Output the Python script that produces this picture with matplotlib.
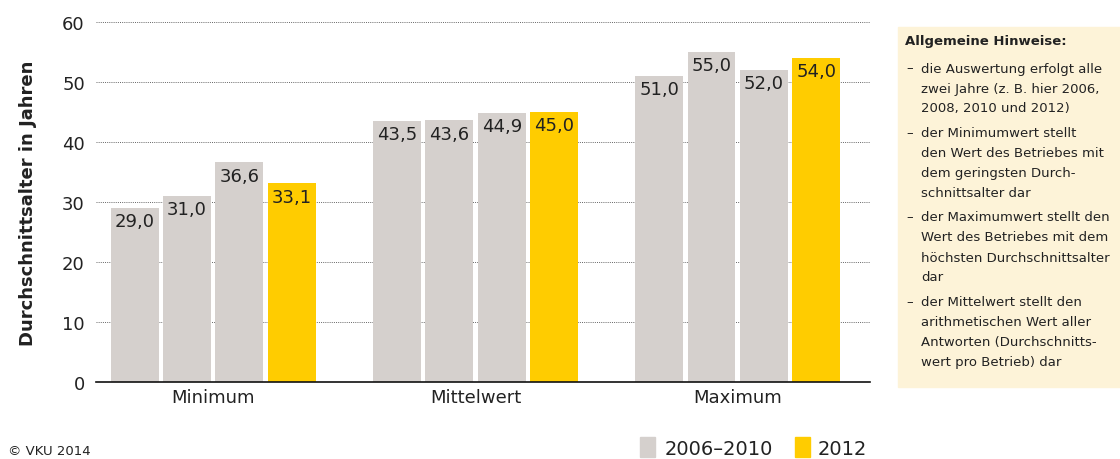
import matplotlib
matplotlib.use("Agg")
import matplotlib.pyplot as plt
from matplotlib.patches import Rectangle
import numpy as np

# ----------------- DATA -----------------
categories = ["Minimum", "Mittelwert", "Maximum"]
years = ["2006", "2008", "2010", "2012"]
values_2006 = [29.0, 43.5, 51.0]
values_2008 = [31.0, 43.6, 55.0]
values_2010 = [36.6, 44.9, 52.0]
values_2012 = [33.1, 45.0, 54.0]
legend_labels = ["2006–2010", "2012"]
notes_title = "Allgemeine Hinweise:"
notes = [
    ["die Auswertung erfolgt alle", "zwei Jahre (z. B. hier 2006,", "2008, 2010 und 2012)"],
    ["der Minimumwert stellt", "den Wert des Betriebes mit", "dem geringsten Durch-", "schnittsalter dar"],
    ["der Maximumwert stellt den", "Wert des Betriebes mit dem", "höchsten Durchschnittsalter", "dar"],
    ["der Mittelwert stellt den", "arithmetischen Wert aller", "Antworten (Durchschnitts-", "wert pro Betrieb) dar"],
]

GREY = "#D5D0CD"
YELLOW = "#FFCC00"
TEXT = "#222222"
plt.rcParams["font.family"] = ["DejaVu Sans"]

fig = plt.figure(figsize=(11.2, 4.6), dpi=100)
ax = fig.add_axes([0.0857, 0.1674, 0.691, 0.7826])

x = np.arange(len(categories))
step = 0.2
width = 0.183
series = [values_2006, values_2008, values_2010, values_2012]
colors = [GREY, GREY, GREY, YELLOW]
for i, (vals, col) in enumerate(zip(series, colors)):
    bars = ax.bar(x + (i - 1.5) * step, vals, width, color=col, zorder=2)
    for b, v in zip(bars, vals):
        ax.text(b.get_x() + b.get_width() / 2, v - 0.7, f"{v:.1f}".replace(".", ","),
                ha="center", va="top", fontsize=13, color=TEXT, zorder=3)

ax.set_xlim(-0.447, 2.504)
ax.set_ylim(0, 60)
ax.set_yticks(range(0, 61, 10))
ax.yaxis.grid(True, linestyle=(0, (1, 1.2)), color="#666666", linewidth=0.7, zorder=0)
ax.set_xticks(x)
ax.set_xticklabels(categories, fontsize=13, color=TEXT)
ax.tick_params(axis="both", length=0, colors=TEXT)
ax.tick_params(axis="y", labelsize=13, pad=8)
ax.tick_params(axis="x", pad=4)
for s in ["top", "right", "left"]:
    ax.spines[s].set_visible(False)
ax.spines["bottom"].set_color("#111111")
ax.spines["bottom"].set_linewidth(1.2)
ax.set_ylabel("Durchschnittsalter in Jahren", fontsize=13, fontweight="bold", color=TEXT, labelpad=18)

# legend + footer
fig.patches.append(Rectangle((640 / 1120, 1 - 458 / 460), 15 / 1120, 20 / 460,
                             transform=fig.transFigure, color=GREY))
fig.text(665 / 1120, 1 - 450 / 460, legend_labels[0], fontsize=14, color=TEXT, va="center")
fig.patches.append(Rectangle((795 / 1120, 1 - 458 / 460), 15 / 1120, 20 / 460,
                             transform=fig.transFigure, color=YELLOW))
fig.text(818 / 1120, 1 - 450 / 460, legend_labels[1], fontsize=14, color=TEXT, va="center")
fig.text(8 / 1120, 1 - 452 / 460, "© VKU 2014", fontsize=9.5, color=TEXT, va="center")

# notes panel
fig.patches.append(Rectangle((898 / 1120, 1 - 388 / 460), 222 / 1120, 360 / 460,
                             transform=fig.transFigure, color="#FDF3D8", zorder=0))
fig.text(905 / 1120, 1 - 42 / 460, notes_title, fontsize=9.5, fontweight="bold", color=TEXT, va="center")
y = 69
for item in notes:
    for j, line in enumerate(item):
        if j == 0:
            fig.text(906 / 1120, 1 - y / 460, "–", fontsize=9.5, color=TEXT, va="center")
        fig.text(921 / 1120, 1 - y / 460, line, fontsize=9.5, color=TEXT, va="center")
        y += 20
    y += 4.5

fig.savefig("out.png", dpi=100)
